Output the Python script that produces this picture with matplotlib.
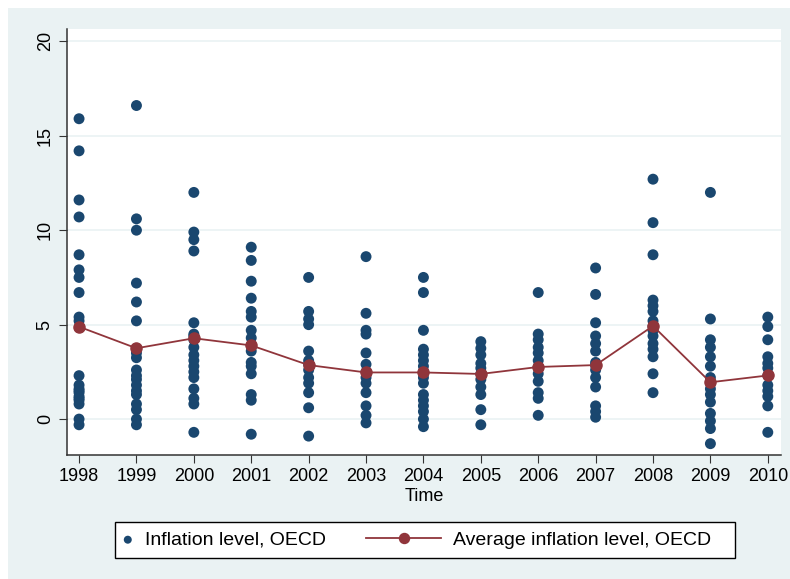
import numpy as np
import matplotlib
matplotlib.use("Agg")
import matplotlib.pyplot as plt
from matplotlib.patches import Rectangle

plt.rcParams['font.family'] = ['Liberation Sans', 'DejaVu Sans']

years = list(range(1998, 2011))

# inflation level per OECD country
inflation = {
    1998: [15.9, 14.2, 11.6, 10.7, 8.7, 7.9, 7.5, 6.7, 5.4, 5.2, 2.3, 1.8, 1.6, 1.5, 1.4, 1.2, 1.1, 1.0, 0.8, 0.0, -0.3],
    1999: [16.6, 10.6, 10.0, 7.2, 6.2, 5.2, 3.7, 3.5, 3.25, 2.6, 2.3, 2.1, 1.8, 1.5, 1.3, 0.8, 0.5, 0.0, -0.3],
    2000: [12.0, 9.9, 9.5, 8.9, 5.1, 4.5, 4.4, 4.2, 3.8, 3.4, 3.1, 2.8, 2.5, 2.2, 1.6, 1.1, 0.8, -0.7],
    2001: [9.1, 8.4, 7.3, 6.4, 5.7, 5.4, 4.7, 4.3, 3.9, 3.6, 3.0, 2.8, 2.4, 1.3, 1.0, -0.8],
    2002: [7.5, 5.7, 5.3, 5.0, 3.6, 3.1, 2.9, 2.6, 2.2, 1.9, 1.4, 0.6, -0.9],
    2003: [8.6, 5.6, 4.7, 4.5, 3.5, 2.9, 2.5, 2.2, 1.9, 1.4, 0.7, 0.2, -0.2],
    2004: [7.5, 6.7, 4.7, 3.7, 3.4, 3.1, 2.8, 2.5, 2.2, 1.9, 1.3, 1.0, 0.7, 0.4, 0.0, -0.4],
    2005: [4.1, 3.75, 3.4, 2.95, 2.7, 2.4, 2.1, 1.7, 1.3, 0.5, -0.3],
    2006: [6.7, 4.5, 4.2, 3.8, 3.5, 3.1, 2.75, 2.4, 2.0, 1.4, 1.1, 0.2],
    2007: [8.0, 6.6, 5.1, 4.4, 4.0, 3.6, 3.0, 2.85, 2.6, 2.2, 1.7, 0.7, 0.4, 0.1],
    2008: [12.7, 10.4, 8.7, 6.3, 6.0, 5.7, 5.2, 4.9, 4.7, 4.4, 4.0, 3.7, 3.3, 2.4, 1.4],
    2009: [12.0, 5.3, 4.2, 3.8, 3.3, 2.8, 2.2, 1.95, 1.6, 1.3, 0.9, 0.3, -0.1, -0.5, -1.3],
    2010: [5.4, 4.9, 4.2, 3.3, 2.95, 2.7, 2.3, 1.8, 1.5, 1.2, 0.7, -0.7],
}

# yearly OECD average
average = [4.89, 3.75, 4.28, 3.90, 2.86, 2.47, 2.47, 2.39, 2.76, 2.86, 4.93, 1.95, 2.31]

navy = '#1a476f'
maroon = '#90353b'
bg = '#eaf2f3'

fig = plt.figure(figsize=(7.9, 5.79), dpi=100, facecolor='white')
fig.patches.append(Rectangle((8 / 790, 0), 1, 1 - 8 / 579, transform=fig.transFigure,
                             facecolor=bg, edgecolor='none', zorder=-10))

ax = fig.add_axes([67 / 790, 1 - 455 / 579, (781 - 67) / 790, (455 - 29) / 579])
ax.set_facecolor('white')

xs = np.concatenate([[y] * len(inflation[y]) for y in years])
ys = np.concatenate([inflation[y] for y in years])
sc = ax.scatter(xs, ys, s=62, color=navy, edgecolors='none', zorder=3,
                label='Inflation level, OECD')
ln, = ax.plot(years, average, color=maroon, lw=1.3, marker='o', ms=8,
              zorder=4, label='Average inflation level, OECD')

ax.set_xlim(1997.79, 2010.23)
ax.set_ylim(-1.9, 20.65)
ax.set_xticks(years)
ax.set_yticks([0, 5, 10, 15, 20])
ax.tick_params(axis='y', labelrotation=90, labelsize=13, length=6, color='#333333')
ax.tick_params(axis='x', labelsize=13, length=6, color='#333333')
for lab in ax.get_yticklabels():
    lab.set_va('center')
ax.yaxis.grid(True, color=bg, lw=1.2)
ax.set_axisbelow(True)
for side in ['top', 'right']:
    ax.spines[side].set_visible(False)
for side in ['left', 'bottom']:
    ax.spines[side].set_color('#333333')
    ax.spines[side].set_linewidth(1.1)
ax.set_xlabel('Time', fontsize=13, labelpad=2)

# legend: white box with two entries of different key widths
fig.patches.append(Rectangle((115 / 790, 1 - 558 / 579), 620 / 790, 36 / 579,
                             transform=fig.transFigure, facecolor='white',
                             edgecolor='black', lw=1.0, zorder=1))
ymid = 1 - 540 / 579
leg1 = fig.legend([sc], [sc.get_label()], loc='center left', fontsize=14,
                  bbox_to_anchor=(120 / 790, ymid), frameon=False,
                  handlelength=0.8, handletextpad=0.5, borderpad=0,
                  borderaxespad=0, markerscale=0.73, scatterpoints=1)
leg2 = fig.legend([ln], [ln.get_label()], loc='center left', fontsize=14,
                  bbox_to_anchor=(366 / 790, ymid), frameon=False,
                  handlelength=3.86, handletextpad=0.62, borderpad=0,
                  borderaxespad=0, markerscale=0.9)
leg1.set_zorder(2)
leg2.set_zorder(2)

fig.savefig('out.png', dpi=100, facecolor=fig.get_facecolor())
